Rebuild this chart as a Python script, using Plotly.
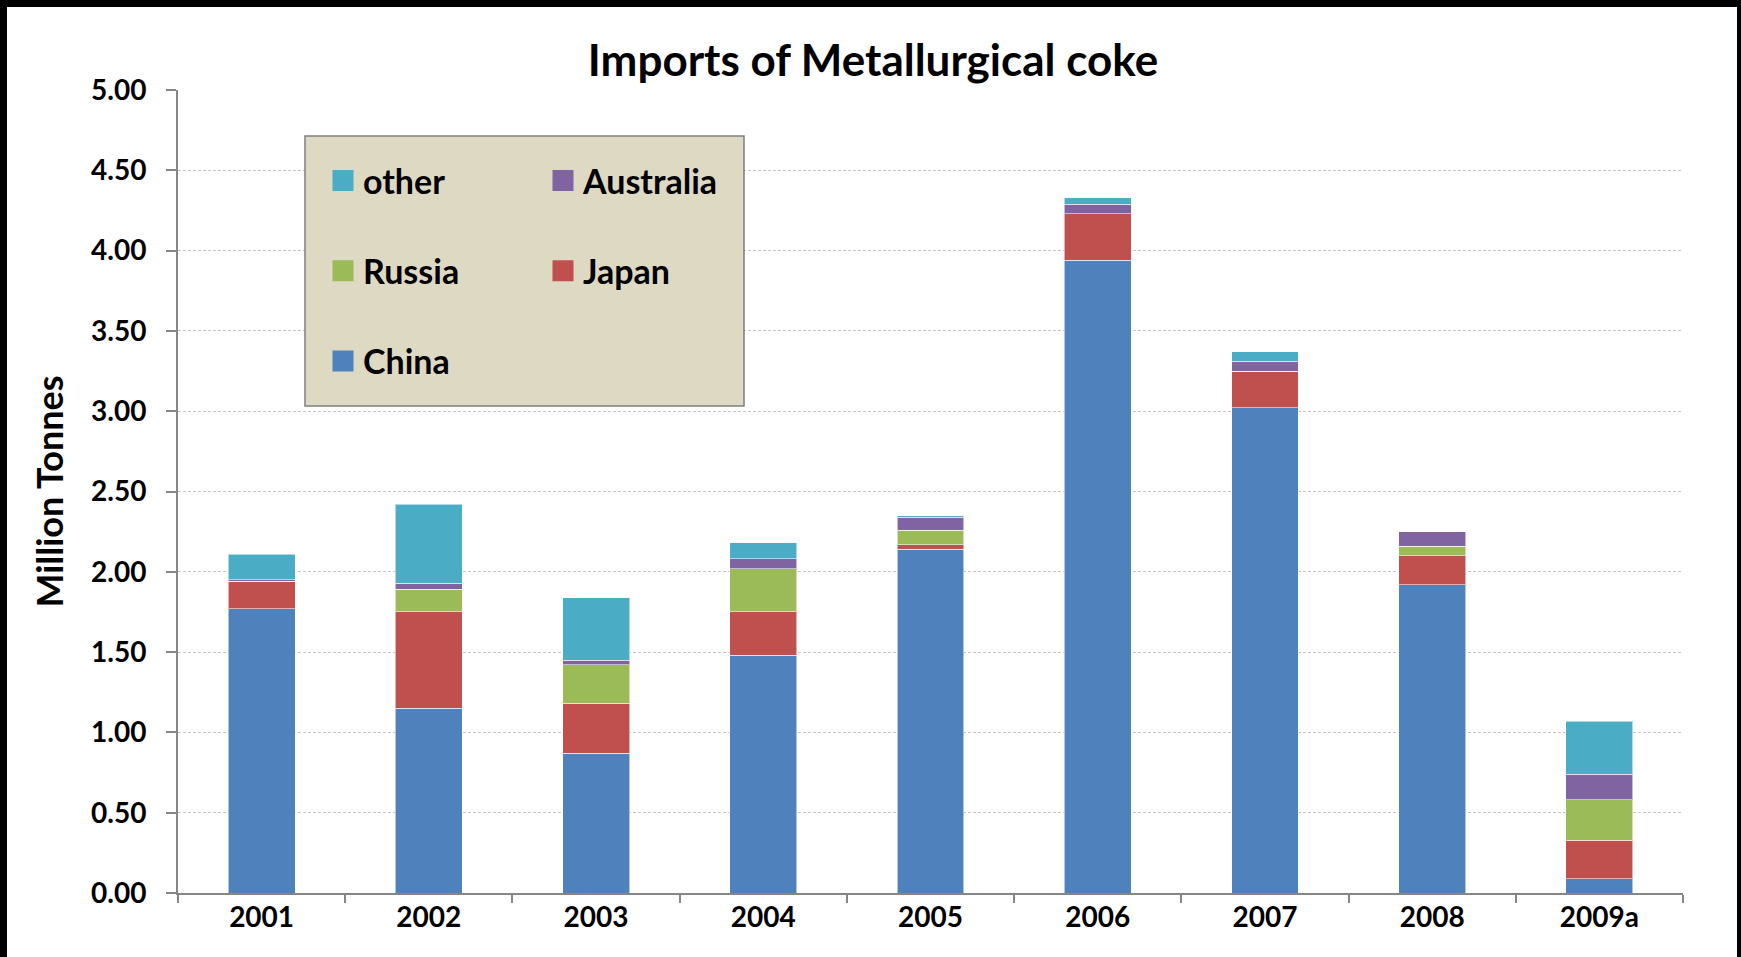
import plotly.graph_objects as go

years = ["2001", "2002", "2003", "2004", "2005", "2006", "2007", "2008", "2009a"]
china =     [1.77, 1.15, 0.87, 1.48, 2.14, 3.94, 3.02, 1.92, 0.09]
japan =     [0.17, 0.60, 0.31, 0.27, 0.03, 0.29, 0.23, 0.18, 0.24]
russia =    [0.00, 0.14, 0.24, 0.27, 0.09, 0.00, 0.00, 0.06, 0.25]
australia = [0.01, 0.04, 0.03, 0.06, 0.08, 0.06, 0.06, 0.09, 0.16]
other =     [0.16, 0.49, 0.39, 0.10, 0.01, 0.04, 0.06, 0.00, 0.33]

# stacking order, bottom to top
series = [
    ("China", china, "#4F81BD", "legend"),
    ("Japan", japan, "#C0504D", "legend2"),
    ("Russia", russia, "#9BBB59", "legend"),
    ("Australia", australia, "#8064A2", "legend2"),
    ("other", other, "#4BACC6", "legend"),
]

W, H = 1741, 957
L, R, T, B = 178, 1683, 90, 893

def px(p):
    return (p - L) / (R - L)

def py(p):
    return (B - p) / (B - T)

FONT = "Lato"
fig = go.Figure()
for name, vals, color, lg in series:
    fig.add_trace(go.Bar(
        x=years, y=vals, name=name, legendgroup=name, showlegend=False,
        marker=dict(color=color, line=dict(color="rgba(255,255,255,0.55)", width=1)),
    ))
# legend entries (top of stack first, as in the original legend)
for name, vals, color, lg in reversed(series):
    fig.add_trace(go.Scatter(
        x=[None], y=[None], mode="markers", name=name, legendgroup=name,
        legend=lg, showlegend=True,
        marker=dict(symbol="square", size=16, color=color, line=dict(color=color, width=5)),
    ))

legend_common = dict(
    orientation="v", traceorder="grouped", tracegroupgap=43,
    bgcolor="rgba(0,0,0,0)", borderwidth=0, itemsizing="trace",
    font=dict(family=FONT, size=34, color="#000000", weight="bold"),
    xanchor="left", yanchor="top",
)

shapes = [
    dict(type="rect", xref="paper", yref="paper", layer="above",
         x0=px(305), x1=px(744), y0=py(406), y1=py(136),
         fillcolor="#DDD9C3", line=dict(color="#7F7F7F", width=1.5)),
    # black frame around the picture
    dict(type="rect", xref="paper", yref="paper", layer="above",
         x0=px(-5), x1=px(7), y0=py(970), y1=py(-5), fillcolor="black", line=dict(width=0)),
    dict(type="rect", xref="paper", yref="paper", layer="above",
         x0=px(-5), x1=px(1746), y0=py(7), y1=py(-5), fillcolor="black", line=dict(width=0)),
    dict(type="rect", xref="paper", yref="paper", layer="above",
         x0=px(1737), x1=px(1746), y0=py(970), y1=py(-5), fillcolor="black", line=dict(width=0)),
]

fig.update_layout(
    width=W, height=H,
    margin=dict(l=L, r=W - R, t=T, b=H - B, autoexpand=False),
    barmode="stack", bargap=0.6,
    paper_bgcolor="white", plot_bgcolor="white",
    font=dict(family=FONT, color="#000000"),
    title=dict(text="Imports of Metallurgical coke", x=873 / W, xanchor="center",
               y=1 - 61 / H, yanchor="middle",
               font=dict(family=FONT, size=44, color="#000000", weight="bold")),
    legend=dict(x=px(323), y=py(152), **legend_common),
    legend2=dict(x=px(543), y=py(152), **legend_common),
    shapes=shapes,
    xaxis=dict(
        type="category", showline=True, linecolor="#868686", linewidth=2,
        ticks="outside", tickson="boundaries", ticklen=8, tickwidth=2, tickcolor="#868686",
        showgrid=False, tickfont=dict(family=FONT, size=28, weight="bold", color="#000000"),
        ticklabelstandoff=-2,
    ),
    yaxis=dict(
        range=[0, 5], dtick=0.5, tickformat=".2f",
        showline=True, linecolor="#868686", linewidth=2,
        ticks="outside", ticklen=10, tickwidth=2, tickcolor="#868686",
        showgrid=True, gridcolor="#C4C4C4", gridwidth=1, griddash="3px,2px",
        zeroline=False,
        tickfont=dict(family=FONT, size=28, weight="bold", color="#000000"),
        ticklabelstandoff=14,
        title=dict(text="Million Tonnes", standoff=16,
                   font=dict(family=FONT, size=36, weight="bold", color="#000000")),
    ),
)

fig.write_html("out.html", config={"displayModeBar": False},
               post_script="document.body.style.margin='0';document.body.style.padding='0';")
